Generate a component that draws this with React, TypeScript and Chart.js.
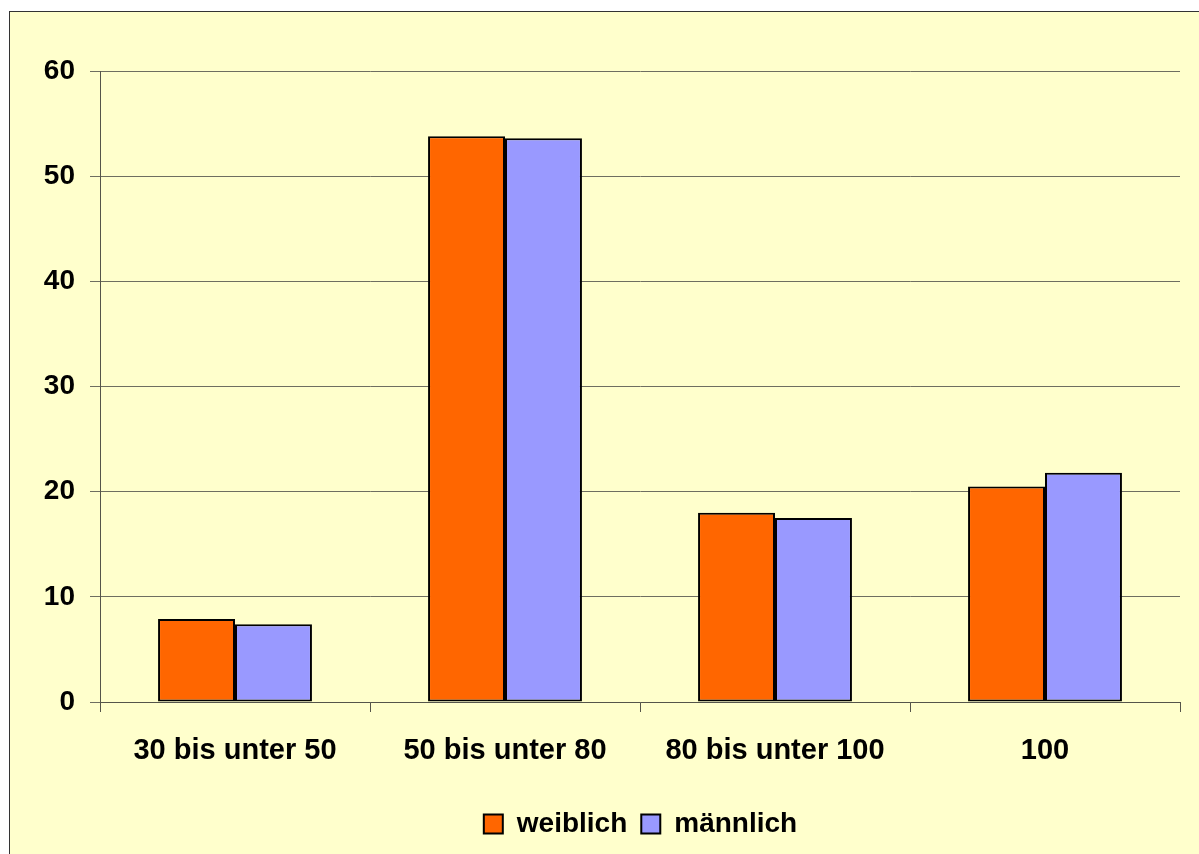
import React, { useEffect, useRef } from "react";
import { Chart, registerables } from "chart.js";

Chart.register(...registerables);

const categories = ["30 bis unter 50", "50 bis unter 80", "80 bis unter 100", "100"];
const weiblich = [7.9, 53.8, 18.0, 20.5];
const maennlich = [7.4, 53.6, 17.5, 21.8];
const seriesNames = ["weiblich", "männlich"];

const FONT = "'Liberation Sans', Arial, sans-serif";

const App: React.FC = () => {
  const canvasRef = useRef<HTMLCanvasElement>(null);
  const chartRef = useRef<Chart | null>(null);

  useEffect(() => {
    if (!canvasRef.current) return;
    if (chartRef.current) chartRef.current.destroy();

    chartRef.current = new Chart(canvasRef.current, {
      type: "bar",
      data: {
        labels: categories,
        datasets: [
          {
            label: seriesNames[0],
            data: weiblich,
            backgroundColor: "#FF6600",
            borderColor: "#000000",
            borderWidth: 2,
            borderSkipped: false,
          },
          {
            label: seriesNames[1],
            data: maennlich,
            backgroundColor: "#9999FF",
            borderColor: "#000000",
            borderWidth: 2,
            borderSkipped: false,
          },
        ],
      },
      options: {
        responsive: false,
        animation: false,
        layout: { padding: { left: 0, top: 59, right: 0, bottom: 6 } },
        datasets: {
          bar: { categoryPercentage: 0.57, barPercentage: 1 },
        },
        scales: {
          x: {
            offset: true,
            grid: {
              offset: true,
              drawOnChartArea: false,
              drawTicks: true,
              tickLength: 10,
              color: "#55554a",
            },
            border: { color: "#55554a", width: 1 },
            ticks: {
              color: "#000",
              padding: 22,
              font: { family: FONT, size: 29, weight: "bold" },
            },
            afterFit: (scale: any) => {
              scale.height = 94;
            },
          },
          y: {
            min: 0,
            max: 60,
            grid: { color: "#6e6e60", tickLength: 10 },
            border: { color: "#55554a", width: 1 },
            ticks: {
              stepSize: 10,
              color: "#000",
              padding: 15,
              font: { family: FONT, size: 28, weight: "bold" },
            },
            afterFit: (scale: any) => {
              scale.width = 90;
            },
          },
          // empty space on the right: the frame runs past the picture's edge
          spacer: {
            type: "linear",
            position: "right",
            grid: { display: false },
            border: { display: false },
            ticks: { display: false },
            afterFit: (scale: any) => {
              scale.width = 91;
            },
          },
        },
        plugins: {
          legend: {
            position: "bottom",
            labels: {
              color: "#000",
              boxWidth: 19,
              boxHeight: 19,
              padding: 14,
              font: { family: FONT, size: 28, weight: "bold" },
            },
          },
          tooltip: { enabled: false },
        },
      },
    } as any);

    return () => {
      if (chartRef.current) {
        chartRef.current.destroy();
        chartRef.current = null;
      }
    };
  }, []);

  return (
    <div
      style={{
        position: "absolute",
        left: 0,
        top: 0,
        width: 1199,
        height: 854,
        background: "#ffffff",
        overflow: "hidden",
      }}
    >
      <div
        style={{
          position: "absolute",
          left: 9,
          top: 11,
          width: 1290,
          height: 850,
          background: "#FFFFCC",
          borderLeft: "1px solid #333",
          borderTop: "1px solid #333",
        }}
      >
        <canvas ref={canvasRef} width={1261} height={842} style={{ display: "block" }} />
      </div>
    </div>
  );
};

export default App;
